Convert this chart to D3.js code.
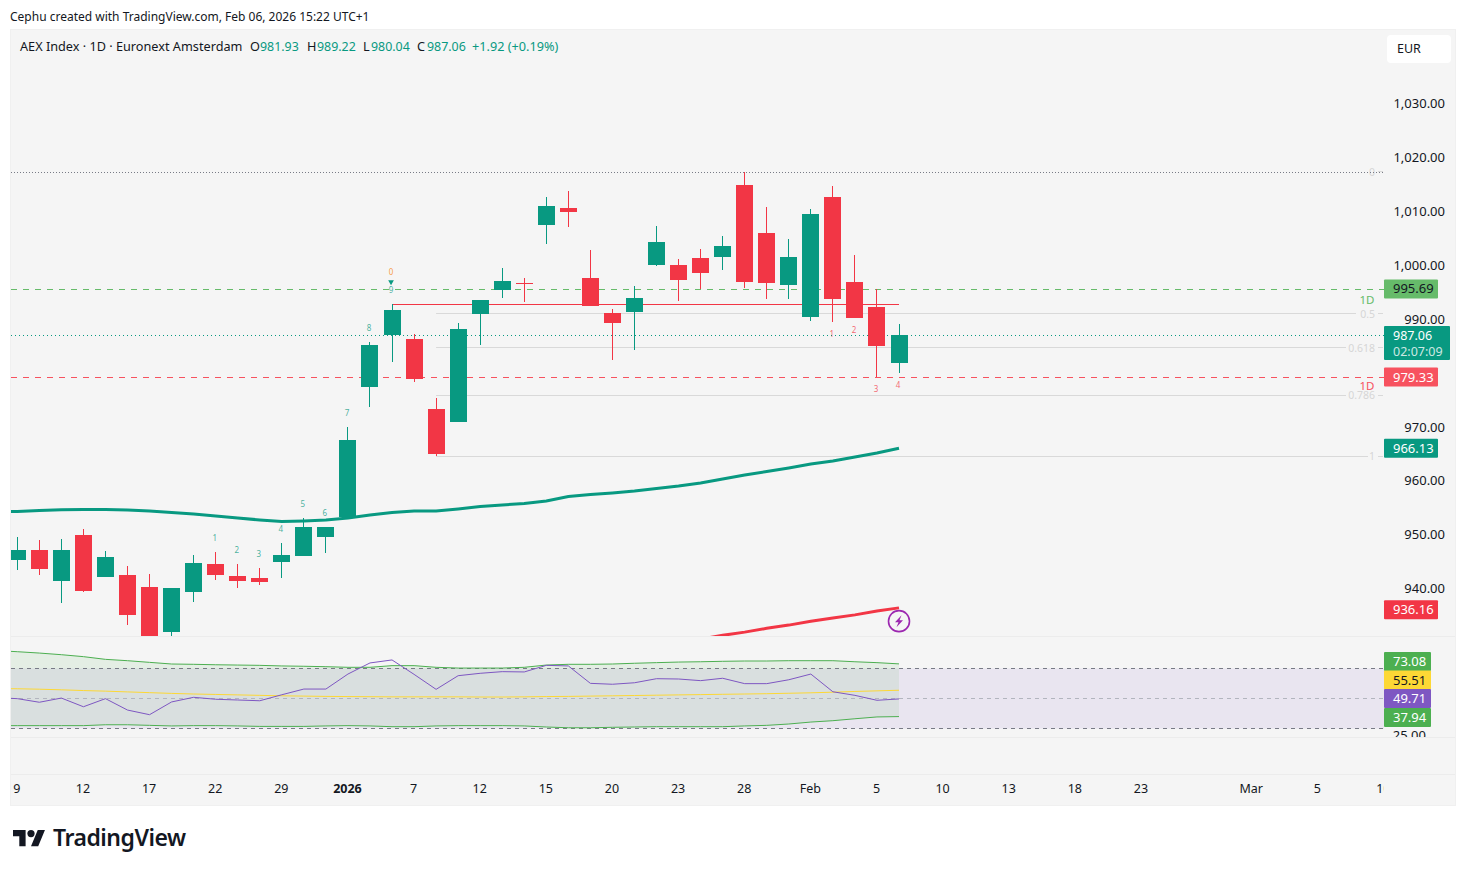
<!DOCTYPE html>
<html>
<head>
<meta charset="utf-8">
<script src="https://cdn.jsdelivr.net/npm/d3@7"></script>
<style>
  html, body { margin: 0; padding: 0; background: #fff; }
  svg { display: block; }
  text { font-family: "Noto Sans", sans-serif; }
</style>
</head>
<body>
<div id="chart"></div>
<script>
// daily candles, index 0 = 9 Dec 2025, index 40 = 6 Feb 2026
const open = [945.39, 947.24, 941.49, 950.03, 942.23, 942.61, 940.38, 932.03, 939.45, 944.65, 942.42, 942.05, 945.02, 946.13, 949.66, 953.37, 977.49, 987.14, 986.40, 973.41, 971.00, 991.04, 995.49, 996.79, 1007.55, 1010.71, 997.72, 991.22, 991.41, 1000.13, 1000.13, 1001.43, 1001.61, 1014.97, 1006.07, 996.42, 990.48, 1012.75, 996.97, 992.34, 981.93];
const high = [949.66, 949.10, 949.29, 951.14, 947.06, 944.28, 942.79, 940.19, 946.32, 946.87, 944.65, 943.90, 948.54, 953.18, 951.51, 970.07, 985.84, 992.89, 987.33, 975.45, 989.37, 993.63, 999.57, 997.72, 1012.75, 1013.86, 1002.91, 991.96, 996.23, 1007.37, 1001.24, 1003.10, 1005.51, 1017.33, 1010.89, 1004.95, 1010.52, 1014.79, 1001.98, 995.68, 989.22];
const low = [943.53, 942.61, 937.41, 939.45, 942.23, 933.33, 931.19, 931.29, 937.60, 941.68, 940.19, 940.75, 942.05, 946.13, 946.69, 953.37, 973.78, 982.13, 978.42, 964.69, 971.00, 985.28, 994.01, 993.26, 1004.03, 1007.18, 992.52, 982.50, 984.36, 999.94, 993.45, 995.68, 999.20, 995.86, 993.82, 993.82, 989.74, 989.55, 990.29, 979.35, 980.04];
const close = [947.24, 943.72, 947.24, 939.64, 945.95, 935.18, 931.19, 940.19, 944.83, 942.61, 941.49, 941.31, 946.32, 951.51, 951.51, 967.66, 985.28, 991.78, 978.98, 965.06, 988.25, 993.63, 997.16, 996.60, 1011.08, 1009.96, 992.52, 989.37, 994.01, 1004.40, 997.35, 998.64, 1003.65, 996.97, 996.79, 1001.61, 1009.59, 993.82, 990.29, 985.10, 987.06];

// these start one bar before the first candle (index -1), the pane cuts them off
const fastMa = [954.30, 954.39, 954.57, 954.70, 954.76, 954.76, 954.67, 954.48, 954.20, 953.92, 953.55, 953.18, 952.81, 952.53, 952.63, 952.81, 953.18, 953.74, 954.20, 954.48, 954.48, 954.85, 955.31, 955.59, 955.87, 956.34, 957.17, 957.54, 957.82, 958.19, 958.66, 959.12, 959.68, 960.42, 961.16, 961.81, 962.46, 963.20, 963.76, 964.50, 965.24, 966.13];
const rsi = [50.6, 49.9, 47.5, 50.3, 44.5, 49.9, 42.3, 39.2, 47.7, 50.8, 49.5, 49.0, 48.5, 52.5, 56.3, 56.3, 66.3, 73.7, 75.7, 66.1, 56.1, 65.2, 66.8, 67.9, 67.7, 72.1, 71.7, 60.1, 59.5, 60.5, 63.2, 63.0, 61.9, 63.5, 59.9, 59.9, 62.5, 66.3, 54.5, 52.1, 48.8, 49.71];
const rsiMa = [56.6, 56.5, 56.2, 55.8, 55.3, 54.9, 54.4, 53.9, 53.4, 53.0, 52.7, 52.4, 52.1, 51.8, 51.6, 51.4, 51.3, 51.2, 51.1, 51.1, 51.1, 51.1, 51.0, 51.0, 51.1, 51.3, 51.4, 51.6, 51.8, 52.0, 52.2, 52.4, 52.6, 52.8, 53.0, 53.2, 53.5, 53.8, 54.2, 54.7, 55.1, 55.51];
const bandUpper = [82.0, 81.2, 80.3, 79.2, 77.9, 76.1, 75.2, 74.1, 73.0, 72.8, 72.5, 72.3, 72.1, 71.7, 71.5, 71.2, 70.8, 70.8, 71.9, 71.9, 70.8, 70.3, 70.3, 70.3, 70.8, 72.3, 72.8, 72.8, 73.0, 73.5, 73.9, 74.3, 74.5, 74.8, 75.0, 75.0, 75.2, 75.2, 75.2, 74.5, 73.9, 73.08];
const bandLower = [31.9, 31.9, 31.9, 31.9, 31.9, 32.5, 32.5, 32.1, 31.7, 31.9, 31.9, 31.7, 31.4, 31.4, 31.4, 31.7, 31.9, 31.7, 31.2, 31.2, 31.7, 31.9, 31.9, 31.9, 31.7, 31.0, 30.5, 30.5, 30.8, 31.0, 31.2, 31.2, 31.2, 31.2, 31.7, 32.1, 33.0, 34.3, 35.2, 36.5, 37.7, 37.94];

// slow average only shows up at the end, index 30 to 40
const slowMaStart = 30;
const slowMa = [930.1, 930.7, 931.4, 932.0, 932.7, 933.3, 934.0, 934.6, 935.2, 935.9, 936.5];

const priceTicks = [1030, 1020, 1010, 1000, 990, 970, 960, 950, 940];
const rsiTicks = [25];
const timeTickBars = [0, 3, 6, 9, 12, 15, 18, 21, 24, 27, 30, 33, 36, 39, 42, 45, 48, 51, 56, 59, 62];
const timeTickLabels = ["9", "12", "17", "22", "29", "2026", "7", "12", "15", "20", "23", "28", "Feb", "5", "10", "13", "18", "23", "Mar", "5", "10"];

const fibLevels = [0, 0.5, 0.618, 0.786, 1];
const fibLabels = ["0", "0.5", "0.618", "0.786", "1"];
const fibPrices = [1017.33, 990.94, 984.72, 975.87, 964.55];
const fibStartBar = 19;

const countUpBars = [9, 10, 11, 12, 13, 14, 15, 16, 17];
const countUpLabels = ["1", "2", "3", "4", "5", "6", "7", "8", "9"];
const countDownBars = [37, 38, 39, 40];
const countDownLabels = ["1", "2", "3", "4"];

const resistance = 995.69;
const support = 979.33;
const lastClose = 987.06;
const pivotLine = 992.83;

const width = 1466, height = 871;
const green = "#089981", red = "#f23645", ink = "#131722";
const paneBg = "#f5f5f5", gridLine = "#ececec";

const paneLeft = 11, paneRight = 1384, chartRight = 1455;
const chartTop = 30, mainBottom = 636, rsiBottom = 737, emptyBottom = 774, chartBottom = 805;

const x = d3.scaleLinear().domain([0, 40]).range([17.3, 899]);
const y = d3.scaleLinear().domain([1030, 940]).range([104, 589]);
const yRsi = d3.scaleLinear().domain([70, 30]).range([668.5, 728.5]);
const bodyWidth = 17;

const svg = d3.select("#chart").append("svg").attr("width", width).attr("height", height);

svg.append("text").attr("x", 10).attr("y", 20.5).attr("font-size", 12).attr("fill", ink)
    .text("Cephu created with TradingView.com, Feb 06, 2026 15:22 UTC+1");

// chart background and pane separators
svg.append("rect").attr("x", paneLeft - 0.5).attr("y", chartTop - 0.5)
    .attr("width", chartRight - paneLeft + 1).attr("height", chartBottom - chartTop + 1)
    .attr("fill", paneBg).attr("stroke", "#f0f0f0");
[mainBottom, rsiBottom, emptyBottom].forEach(v => {
    svg.append("line").attr("x1", paneLeft).attr("x2", chartRight).attr("y1", v + 0.5).attr("y2", v + 0.5)
        .attr("stroke", gridLine);
});

const defs = svg.append("defs");
defs.append("clipPath").attr("id", "main-clip").append("rect")
    .attr("x", paneLeft).attr("y", chartTop).attr("width", paneRight - paneLeft).attr("height", mainBottom - chartTop);
defs.append("clipPath").attr("id", "rsi-clip").append("rect")
    .attr("x", paneLeft).attr("y", mainBottom + 1).attr("width", paneRight - paneLeft).attr("height", rsiBottom - mainBottom - 1);
defs.append("clipPath").attr("id", "rsi-scale-clip").append("rect")
    .attr("x", paneRight).attr("y", mainBottom + 1).attr("width", chartRight - paneRight).attr("height", rsiBottom - mainBottom - 1);
defs.append("clipPath").attr("id", "time-clip").append("rect")
    .attr("x", paneLeft).attr("y", emptyBottom).attr("width", paneRight - paneLeft).attr("height", chartBottom - emptyBottom);

const main = svg.append("g").attr("clip-path", "url(#main-clip)");

// fib retracement lines
main.selectAll("line.fib").data(fibLevels.slice(1)).join("line").attr("class", "fib")
    .attr("x1", x(fibStartBar)).attr("x2", (d, i) => [1356, 1346, 1346, 1368][i])
    .attr("y1", (d, i) => Math.round(y(fibPrices[i + 1])) - 0.5)
    .attr("y2", (d, i) => Math.round(y(fibPrices[i + 1])) - 0.5)
    .attr("stroke", "#d9d9d9");
main.selectAll("text.fib").data(fibLabels).join("text").attr("class", "fib")
    .attr("x", paneRight - 9).attr("y", (d, i) => y(fibPrices[i]) + 3.5)
    .attr("text-anchor", "end").attr("font-size", 10.5).attr("fill", "#d6d6d6")
    .text(d => d);
main.selectAll("line.fibtick").data(fibPrices).join("line").attr("class", "fibtick")
    .attr("x1", paneRight - 6).attr("x2", paneRight - 1)
    .attr("y1", d => Math.round(y(d)) - 0.5).attr("y2", d => Math.round(y(d)) - 0.5)
    .attr("stroke", "#d9d9d9");

// level lines
function level(value, color, dash) {
    const yy = Math.round(y(value)) + 0.5;
    main.append("line").attr("x1", paneLeft).attr("x2", paneRight).attr("y1", yy).attr("y2", yy)
        .attr("stroke", color).attr("stroke-dasharray", dash);
}
level(fibPrices[0], "#787b86", "1 2");
level(resistance, "#66bb6a", "6 6");
level(lastClose, green, "1 3");
level(support, "#f7525f", "6 6");

main.append("line").attr("x1", x(17)).attr("x2", x(40))
    .attr("y1", Math.round(y(pivotLine)) + 0.5).attr("y2", Math.round(y(pivotLine)) + 0.5)
    .attr("stroke", red);

// moving averages
const fastLine = d3.line().x((d, i) => x(i - 1)).y(d => y(d));
main.append("path").attr("d", fastLine(fastMa)).attr("fill", "none").attr("stroke", green).attr("stroke-width", 3);
const slowLine = d3.line().x((d, i) => x(i + slowMaStart)).y(d => y(d));
main.append("path").attr("d", slowLine(slowMa)).attr("fill", "none").attr("stroke", red).attr("stroke-width", 3);

// candles
const candles = main.selectAll("g.candle").data(open.map((o, i) => i)).join("g").attr("class", "candle")
    .attr("fill", i => close[i] >= open[i] ? green : red)
    .attr("shape-rendering", "crispEdges");
candles.append("rect")
    .attr("x", i => Math.floor(x(i)))
    .attr("y", i => Math.round(y(high[i])))
    .attr("width", 1)
    .attr("height", i => Math.round(y(low[i])) - Math.round(y(high[i])));
candles.append("rect")
    .attr("x", i => Math.floor(x(i)) - Math.floor(bodyWidth / 2))
    .attr("y", i => Math.round(y(Math.max(open[i], close[i]))))
    .attr("width", bodyWidth)
    .attr("height", i => Math.max(1, Math.round(y(Math.min(open[i], close[i]))) - Math.round(y(Math.max(open[i], close[i])))));

// sequential count numbers
main.selectAll("text.up").data(countUpBars).join("text").attr("class", "up")
    .attr("x", d => x(d) - 1).attr("y", d => y(high[d]) - 11)
    .attr("text-anchor", "middle").attr("font-size", 8).attr("fill", green).attr("fill-opacity", 0.75)
    .text((d, i) => countUpLabels[i]);
main.selectAll("text.down").data(countDownBars).join("text").attr("class", "down")
    .attr("x", d => x(d) - 1).attr("y", d => y(low[d]) + 15)
    .attr("text-anchor", "middle").attr("font-size", 8).attr("fill", red).attr("fill-opacity", 0.75)
    .text((d, i) => countDownLabels[i]);
main.append("text").attr("x", x(17) - 1).attr("y", y(high[17]) - 29)
    .attr("text-anchor", "middle").attr("font-size", 8).attr("fill", "#f57c00").attr("fill-opacity", 0.75).text("0");
main.append("path").attr("d", d3.symbol(d3.symbolTriangle, 14)())
    .attr("transform", `translate(${x(17) - 1},${y(high[17]) - 22}) rotate(180)`).attr("fill", green);

// alert icon at the end of the slow average
const bolt = svg.append("g").attr("transform", `translate(${x(40)},${y(slowMa[10]) + 13.3})`);
bolt.append("circle").attr("r", 10.5).attr("fill", paneBg).attr("stroke", "#9c27b0").attr("stroke-width", 1.6);
bolt.append("path").attr("d", "M2.5 -6 L-4 1 L-0.5 1 L-2.5 6 L4 -1 L0.5 -1 Z").attr("fill", "#9c27b0");

// rsi pane
const rsiPane = svg.append("g").attr("clip-path", "url(#rsi-clip)");
rsiPane.append("rect").attr("x", paneLeft).attr("width", paneRight - paneLeft)
    .attr("y", yRsi(70)).attr("height", yRsi(30) - yRsi(70))
    .attr("fill", "#7e57c2").attr("fill-opacity", 0.1);
const bandArea = d3.area().x((d, i) => x(i - 1)).y0((d, i) => yRsi(bandLower[i])).y1(d => yRsi(d));
rsiPane.append("path").attr("d", bandArea(bandUpper)).attr("fill", "#4caf50").attr("fill-opacity", 0.1);
[[70, 1, "#787b86"], [50, 1, "#b2b5be"], [30, 1, "#787b86"]].forEach(([v, w, c]) => {
    rsiPane.append("line").attr("x1", paneLeft).attr("x2", paneRight)
        .attr("y1", Math.floor(yRsi(v)) + 0.5).attr("y2", Math.floor(yRsi(v)) + 0.5)
        .attr("stroke", c).attr("stroke-width", w).attr("stroke-dasharray", "4 4");
});
const rsiLine = d3.line().x((d, i) => x(i - 1)).y(d => yRsi(d));
rsiPane.append("path").attr("d", rsiLine(bandUpper)).attr("fill", "none").attr("stroke", "#4caf50");
rsiPane.append("path").attr("d", rsiLine(bandLower)).attr("fill", "none").attr("stroke", "#4caf50");
rsiPane.append("path").attr("d", rsiLine(rsiMa)).attr("fill", "none").attr("stroke", "#fdd835");
rsiPane.append("path").attr("d", rsiLine(rsi)).attr("fill", "none").attr("stroke", "#7e57c2");

// axes
const priceAxis = svg.append("g").attr("transform", `translate(1445,-0.5)`)
    .call(d3.axisLeft(y).tickValues(priceTicks).tickSize(0).tickPadding(0).tickFormat(d3.format(",.2f")));
const rsiAxis = svg.append("g").attr("clip-path", "url(#rsi-scale-clip)")
    .call(d3.axisLeft(yRsi).tickValues(rsiTicks).tickSize(0).tickPadding(0).tickFormat(d3.format(".2f")));
const timeAxis = svg.append("g").attr("clip-path", "url(#time-clip)")
    .call(d3.axisBottom(x).tickValues(timeTickBars).tickSize(0).tickPadding(0).tickFormat((d, i) => timeTickLabels[i]));
[priceAxis, rsiAxis, timeAxis].forEach(a => {
    a.select(".domain").remove();
    a.selectAll("text").attr("font-family", "'Noto Sans', sans-serif").attr("font-size", 13).attr("fill", ink);
});
timeAxis.selectAll("text").attr("font-size", 12.5).attr("font-weight", (d, i) => timeTickLabels[i] === "2026" ? 700 : 400);
timeAxis.selectAll(".tick").attr("transform", d => `translate(${x(d) - 0.5},${emptyBottom + 10})`);
rsiAxis.selectAll(".tick").attr("transform", d => `translate(1426,${yRsi(d)})`);

// price tags on the scale
const tagValues = ["995.69", "979.33", "966.13", "936.16", "73.08", "55.51", "49.71", "37.94"];
const tagColors = ["#66bb6a", "#f7525f", green, red, "#4caf50", "#fdd835", "#7e57c2", "#4caf50"];
const tagText = [ink, "#fff", "#fff", "#fff", "#fff", ink, "#fff", "#fff"];
const tagY = [y(995.69), y(979.33), y(966.13), y(936.16), 661.5, 680, 698.5, 717.5];
const tagW = [54, 54, 54, 54, 47, 47, 47, 47];
const tags = svg.selectAll("g.tag").data(tagValues).join("g").attr("class", "tag")
    .attr("transform", (d, i) => `translate(${paneRight},${tagY[i]})`);
tags.append("rect").attr("y", -9.5).attr("height", 19).attr("width", (d, i) => tagW[i])
    .attr("rx", 1).attr("fill", (d, i) => tagColors[i]);
tags.append("text").attr("x", 9).attr("y", 4.5).attr("font-size", 13)
    .attr("fill", (d, i) => tagText[i]).text(d => d);

// last price tag has the countdown under it
const lastTag = svg.append("g").attr("transform", `translate(${paneRight},326)`);
lastTag.append("rect").attr("width", 66).attr("height", 34).attr("rx", 1).attr("fill", green);
lastTag.append("text").attr("x", 9).attr("y", 14).attr("font-size", 12.5).attr("fill", "#fff").text("987.06");
lastTag.append("text").attr("x", 9).attr("y", 30).attr("font-size", 12.5).attr("fill", "#fff").attr("fill-opacity", 0.8).text("02:07:09");

svg.append("text").attr("x", 1367).attr("y", 304).attr("text-anchor", "middle").attr("font-size", 11.5).attr("fill", "#66bb6a").text("1D");
svg.append("text").attr("x", 1367).attr("y", 390).attr("text-anchor", "middle").attr("font-size", 11.5).attr("fill", "#f7525f").text("1D");

// legend line
const legendParts = [["AEX Index · 1D · Euronext Amsterdam", ink, 12.7], ["O", ink, 12.7], ["981.93", green, 12.4], ["H", ink, 12.7], ["989.22", green, 12.4], ["L", ink, 12.7], ["980.04", green, 12.4], ["C", ink, 12.7], ["987.06", green, 12.4], ["+1.92 (+0.19%)", green, 12.7]];
const legendX = [20, 250, 260, 307, 317, 363, 371, 417, 427, 472];
svg.selectAll("text.legend").data(legendParts).join("text").attr("class", "legend")
    .attr("x", (d, i) => legendX[i]).attr("y", 51).attr("font-size", d => d[2])
    .attr("fill", d => d[1]).text(d => d[0]);

// currency button
svg.append("rect").attr("x", 1387).attr("y", 35).attr("width", 64).attr("height", 28).attr("rx", 4).attr("fill", "#fff");
svg.append("text").attr("x", 1397).attr("y", 53).attr("font-size", 12.5).attr("fill", ink).text("EUR");

// logo
const logo = svg.append("g").attr("transform", "translate(13,826.4) scale(0.9)").attr("fill", ink);
logo.append("path").attr("d", "M14 22H7V11H0V4h14v18zM28 22h-8l7.5-18h8L28 22z");
logo.append("circle").attr("cx", 20).attr("cy", 8).attr("r", 4);
svg.append("text").attr("x", 53).attr("y", 846).attr("font-family", "Inter, sans-serif")
    .attr("font-size", 23).attr("font-weight", 600).attr("letter-spacing", -0.5).attr("fill", ink).text("TradingView");
</script>
</body>
</html>
